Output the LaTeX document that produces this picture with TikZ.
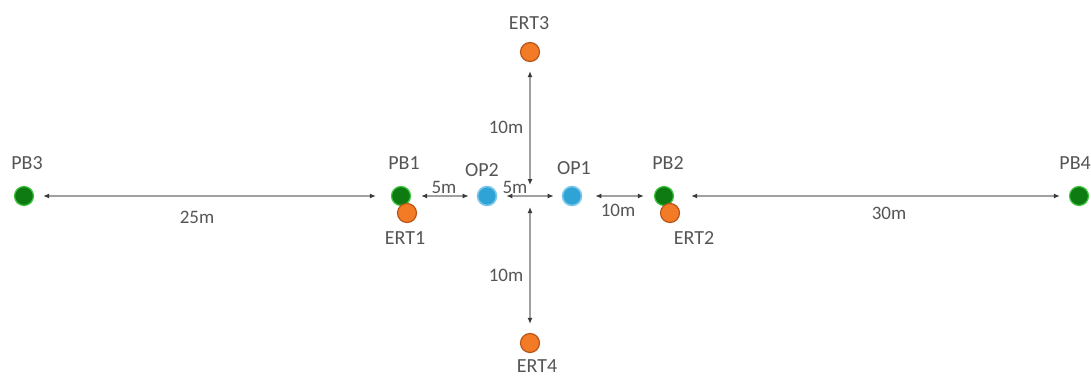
\documentclass[tikz,border=0pt]{standalone}
\usepackage{fontspec}
\setmainfont{Carlito}
\usetikzlibrary{arrows.meta,backgrounds}
\definecolor{pbfill}{HTML}{0E7A12}
\definecolor{pbedge}{HTML}{3FC43F}
\definecolor{ertfill}{HTML}{F47B25}
\definecolor{ertedge}{HTML}{B8561A}
\definecolor{opfill}{HTML}{2FA3D6}
\definecolor{opedge}{HTML}{7CC8EA}
\definecolor{txt}{HTML}{555555}
\definecolor{ln}{HTML}{A0A0A0}
\definecolor{tip}{HTML}{3A3A3A}
\tikzset{
  pb/.style={circle,fill=pbfill,draw=pbedge,line width=1.2pt,minimum size=19pt,inner sep=0pt},
  ert/.style={circle,fill=ertfill,draw=ertedge,line width=1.2pt,minimum size=19pt,inner sep=0pt},
  op/.style={circle,fill=opfill,draw=opedge,line width=1.6pt,minimum size=19pt,inner sep=0pt},
  lbl/.style={text=txt,font=\fontsize{20}{20}\selectfont,inner sep=0pt},
  dist/.style={text=txt,font=\fontsize{19}{19}\selectfont,inner sep=0pt},
  meas/.style={draw=ln,line width=2pt,{Latex[length=6pt,width=5pt,color=tip]}-{Latex[length=6pt,width=5pt,color=tip]}},
}
\begin{document}
\begin{tikzpicture}[x=1pt,y=-1pt]
\useasboundingbox (0,0) rectangle (1091,378);
\coordinate (Cu) at (530,185);
\coordinate (Cd) at (530,207);
\node[pb]  (PB3)  at (24,196)  {};
\node[pb]  (PB1)  at (401,196) {};
\node[ert] (ERT1) at (407,213) {};
\node[op]  (OP2)  at (487,196) {};
\node[op]  (OP1)  at (572,196) {};
\node[pb]  (PB2)  at (664,196) {};
\node[ert] (ERT2) at (670,213) {};
\node[pb]  (PB4)  at (1079,196) {};
\node[ert] (ERT3) at (530,52)  {};
\node[ert] (ERT4) at (530,343) {};
\begin{scope}[on background layer]
\draw[meas,shorten <=9pt,shorten >=15pt] (PB3) -- (PB1);
\draw[meas,shorten <=10pt,shorten >=8pt] (PB1) -- (OP2);
\draw[meas,shorten <=9pt,shorten >=8pt] (OP2) -- (OP1);
\draw[meas,shorten <=13pt,shorten >=10pt] (OP1) -- (PB2);
\draw[meas,shorten <=17pt,shorten >=9pt] (PB2) -- (PB4);
\draw[meas,shorten >=9pt] (Cu) -- (ERT3);
\draw[meas,shorten >=9pt] (Cd) -- (ERT4);
\end{scope}
\node[lbl] (tPB3) at (27,163) {PB3};
\node[lbl] (tPB1) at (404,163) {PB1};
\node[lbl] (tOP2) at (482,170) {OP2};
\node[lbl] (tOP1) at (574,168) {OP1};
\node[lbl] (tPB2) at (668,163) {PB2};
\node[lbl,anchor=east] (tPB4) at (1091,163) {PB4};
\node[lbl] (tERT1) at (405,238) {ERT1};
\node[lbl] (tERT2) at (694,238) {ERT2};
\node[lbl] (tERT3) at (529,23) {ERT3};
\node[lbl] (tERT4) at (537,366) {ERT4};
\node[dist] (d25) at (197,217) {25m};
\node[dist] (d5a) at (444,187) {5m};
\node[dist] (d5b) at (515,187) {5m};
\node[dist] (d10h) at (618,210) {10m};
\node[dist] (d30) at (889,213) {30m};
\node[dist] (d10u) at (506,127) {10m};
\node[dist] (d10d) at (506,275) {10m};
\end{tikzpicture}
\end{document}
